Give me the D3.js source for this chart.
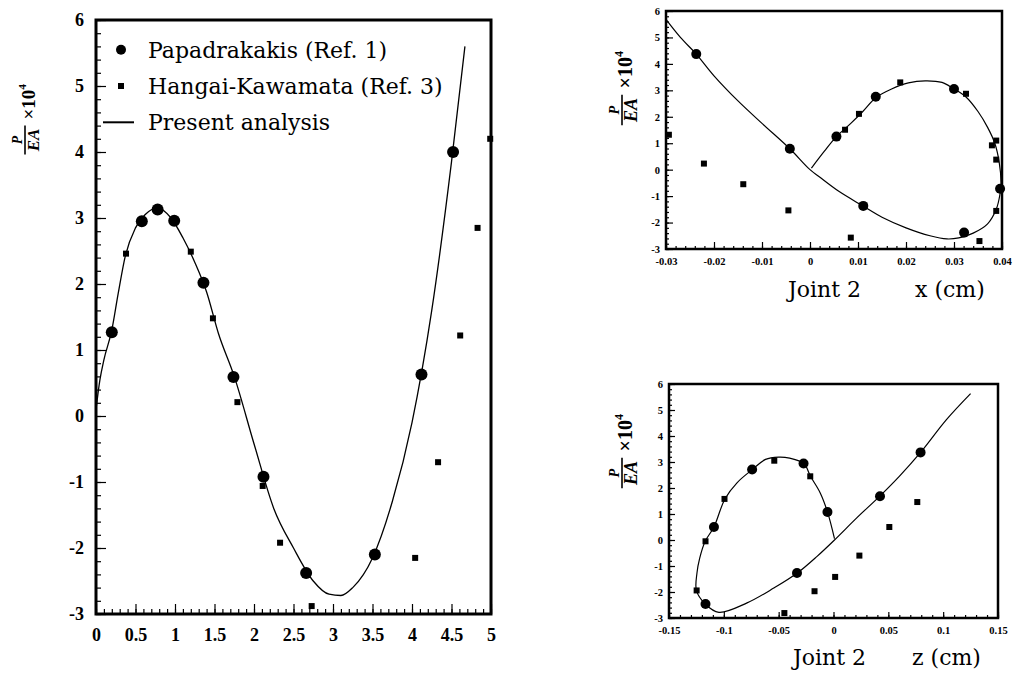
<!DOCTYPE html>
<html>
<head>
<meta charset="utf-8">
<script src="https://cdn.jsdelivr.net/npm/d3@7"></script>
<style>
  body { margin: 0; background: #fff; }
  svg { display: block; }
</style>
</head>
<body>
<svg id="chart" width="1013" height="675"></svg>
<script>
// ---- data ----
const yTicks = [-3, -2, -1, 0, 1, 2, 3, 4, 5, 6];

// left panel: P/EA vs displacement
const leftTicks = [0, 0.5, 1, 1.5, 2, 2.5, 3, 3.5, 4, 4.5, 5];
const leftTickLabels = ["0", "0.5", "1", "1.5", "2", "2.5", "3", "3.5", "4", "4.5", "5"];
const leftPapX = [0.2, 0.58, 0.78, 0.99, 1.36, 1.74, 2.12, 2.66, 3.53, 4.12, 4.52];
const leftPapY = [1.27, 2.95, 3.13, 2.96, 2.02, 0.59, -0.92, -2.38, -2.1, 0.63, 4.0];
const leftHanX = [0.38, 1.2, 1.48, 1.79, 2.11, 2.33, 2.73, 4.04, 4.33, 4.61, 4.83, 4.99];
const leftHanY = [2.46, 2.49, 1.48, 0.21, -1.06, -1.92, -2.88, -2.15, -0.7, 1.22, 2.85, 4.2];
const leftCurveX = [0, 0.05, 0.1, 0.2, 0.28, 0.37, 0.5, 0.62, 0.78, 0.95, 1.1, 1.25, 1.4, 1.55, 1.75, 2.0, 2.25, 2.5, 2.75, 2.95, 3.1, 3.25, 3.5, 3.75, 4.0, 4.25, 4.5, 4.67];
const leftCurveY = [0.1, 0.55, 0.85, 1.3, 1.85, 2.42, 2.85, 3.05, 3.15, 3.0, 2.7, 2.33, 1.88, 1.25, 0.6, -0.42, -1.4, -2.0, -2.5, -2.7, -2.72, -2.6, -2.15, -1.3, -0.1, 1.6, 3.85, 5.6];

// top right panel: Joint 2, x (cm)
const xTicks = [-0.03, -0.02, -0.01, 0, 0.01, 0.02, 0.03, 0.04];
const xTickLabels = ["-0.03", "-0.02", "-0.01", "0", "0.01", "0.02", "0.03", "0.04"];
const xPapX = [-0.0237, -0.0042, 0.0055, 0.0137, 0.030, 0.0396, 0.0321, 0.0111];
const xPapY = [4.37, 0.79, 1.25, 2.76, 3.05, -0.72, -2.38, -1.37];
const xHanX = [-0.0294, -0.0221, -0.0139, -0.0045, 0.0085, 0.0073, 0.0102, 0.0188, 0.0325, 0.0379, 0.0388, 0.0388, 0.0388, 0.0353];
const xHanY = [1.32, 0.23, -0.55, -1.54, -2.57, 1.51, 2.11, 3.30, 2.87, 0.92, 1.10, 0.38, -1.56, -2.70];
const xCurveX = [0.0003, 0.003, 0.0055, 0.0085, 0.011, 0.0137, 0.017, 0.0205, 0.024, 0.0275, 0.030, 0.0325, 0.035, 0.037, 0.0385, 0.0394, 0.0398, 0.0396, 0.0388, 0.037, 0.034, 0.031, 0.0285, 0.025, 0.02, 0.015, 0.011, 0.006, 0.002, 0, -0.0042, -0.01, -0.015, -0.02, -0.0237, -0.027, -0.03];
const xCurveY = [0.06, 0.7, 1.25, 1.75, 2.2, 2.72, 3.05, 3.28, 3.36, 3.3, 3.05, 2.75, 2.2, 1.6, 1.0, 0.3, -0.5, -0.9, -1.5, -2.05, -2.4, -2.58, -2.62, -2.5, -2.2, -1.8, -1.37, -0.82, -0.28, 0, 0.79, 1.75, 2.6, 3.55, 4.37, 5.0, 5.68];

// bottom right panel: Joint 2, z (cm)
const zTicks = [-0.15, -0.1, -0.05, 0, 0.05, 0.1, 0.15];
const zTickLabels = ["-0.15", "-0.1", "-0.05", "0", "0.05", "0.1", "0.15"];
const zPapX = [-0.1167, -0.109, -0.0742, -0.0273, -0.0055, -0.0333, 0.0424, 0.0794];
const zPapY = [-2.46, 0.5, 2.71, 2.94, 1.08, -1.27, 1.68, 3.37];
const zHanX = [-0.1248, -0.1167, -0.0994, -0.054, -0.0212, -0.0448, -0.0173, 0.0015, 0.0236, 0.0509, 0.0764];
const zHanY = [-1.94, -0.05, 1.58, 3.05, 2.45, -2.81, -1.97, -1.42, -0.60, 0.50, 1.46];
const zCurveX = [0.0009, -0.0055, -0.0121, -0.021, -0.027, -0.04, -0.05, -0.062, -0.074, -0.088, -0.099, -0.109, -0.117, -0.122, -0.1245, -0.125, -0.117, -0.1045, -0.0788, -0.0545, -0.033, -0.015, 0.0009, 0.0212, 0.042, 0.060, 0.0794, 0.103, 0.125];
const zCurveY = [0.05, 1.08, 1.81, 2.45, 2.94, 3.15, 3.19, 3.1, 2.71, 2.2, 1.58, 0.5, -0.05, -0.7, -1.27, -1.94, -2.46, -2.78, -2.42, -1.85, -1.27, -0.63, 0.0, 0.85, 1.68, 2.45, 3.37, 4.63, 5.63];

const legendLabels = ["Papadrakakis (Ref. 1)", "Hangai-Kawamata (Ref. 3)", "Present analysis"];

// ---- drawing ----
const svg = d3.select("#chart");
const zip = (xs, ys) => xs.map((v, i) => [v, ys[i]]);
const tickFamily = "'Liberation Serif', 'Times New Roman', serif";
const textFamily = "'DejaVu Serif', serif";

function panel(opt) {
  const x = d3.scaleLinear().domain(opt.xDomain).range([opt.x0, opt.x1]);
  const y = d3.scaleLinear().domain([-3, 6]).range([opt.y1, opt.y0]);
  const g = svg.append("g");

  // minor ticks
  g.append("g")
    .attr("transform", `translate(0,${opt.y1})`)
    .call(d3.axisBottom(x).tickValues(opt.xMinor).tickSize(-opt.minorLen).tickSizeOuter(0).tickFormat(""))
    .call(a => a.select(".domain").remove());
  g.append("g")
    .attr("transform", `translate(${opt.x0},0)`)
    .call(d3.axisLeft(y).tickValues(opt.yMinor).tickSize(-opt.minorLen).tickSizeOuter(0).tickFormat(""))
    .call(a => a.select(".domain").remove());

  // major ticks + labels
  const xa = g.append("g")
    .attr("transform", `translate(0,${opt.y1})`)
    .call(d3.axisBottom(x).tickValues(opt.xTicks).tickSize(-opt.majorLen).tickSizeOuter(0)
      .tickPadding(opt.xPad).tickFormat((d, i) => opt.xLabels[i]));
  xa.select(".domain").remove();

  const ya = g.append("g")
    .attr("transform", `translate(${opt.x0},0)`)
    .call(d3.axisLeft(y).tickValues(yTicks).tickSize(-opt.majorLen).tickSizeOuter(0)
      .tickPadding(opt.yPad).tickFormat(d => String(d)));
  ya.select(".domain").remove();

  g.selectAll(".tick text")
    .style("font-family", tickFamily).style("font-weight", "bold")
    .style("font-size", opt.tickFont + "px").attr("fill", "#000");
  g.selectAll(".tick line").attr("stroke", "#000").attr("stroke-width", 1.2);

  // frame
  g.append("rect")
    .attr("x", opt.x0).attr("y", opt.y0)
    .attr("width", opt.x1 - opt.x0).attr("height", opt.y1 - opt.y0)
    .attr("fill", "none").attr("stroke", "#000").attr("stroke-width", opt.frameW);

  // curve (present analysis)
  const line = d3.line().x(d => x(d[0])).y(d => y(d[1])).curve(opt.curve);
  g.append("path")
    .datum(zip(opt.curveX, opt.curveY))
    .attr("d", line)
    .attr("fill", "none").attr("stroke", "#000").attr("stroke-width", opt.lineW);

  // squares (Hangai-Kawamata)
  g.selectAll(".sq")
    .data(zip(opt.hanX, opt.hanY))
    .enter().append("rect")
    .attr("x", d => x(d[0]) - opt.sq / 2)
    .attr("y", d => y(d[1]) - opt.sq / 2)
    .attr("width", opt.sq).attr("height", opt.sq)
    .attr("fill", "#000");

  // circles (Papadrakakis)
  g.selectAll(".dot")
    .data(zip(opt.papX, opt.papY))
    .enter().append("circle")
    .attr("cx", d => x(d[0])).attr("cy", d => y(d[1]))
    .attr("r", opt.r).attr("fill", "#000");

  return { x, y, g };
}

function yLabel(cx, cy, fs, fracFs) {
  const g = svg.append("g").attr("transform", `translate(${cx},${cy}) rotate(-90)`);
  g.append("text").attr("x", 0).attr("y", -3).attr("text-anchor", "middle")
    .style("font-family", tickFamily).style("font-style", "italic").style("font-weight", "bold")
    .style("font-size", fracFs * 0.8 + "px").text("P");
  g.append("line").attr("x1", -fracFs * 0.85).attr("x2", fracFs * 0.85).attr("y1", 0).attr("y2", 0)
    .attr("stroke", "#000").attr("stroke-width", 1.6);
  g.append("text").attr("x", 0).attr("y", fracFs * 0.85).attr("text-anchor", "middle")
    .style("font-family", tickFamily).style("font-style", "italic").style("font-weight", "bold")
    .style("font-size", fracFs + "px").text("EA");
  const t = g.append("text").attr("x", fracFs * 1.2).attr("y", fs * 0.5)
    .style("font-family", tickFamily).style("font-weight", "bold").style("font-size", fs + "px");
  t.append("tspan").text("×10");
  t.append("tspan").style("font-size", fs * 0.6 + "px").attr("dy", -fs * 0.45).text("4");
}

// left panel
const L = panel({
  xDomain: [0, 5], x0: 96, x1: 491, y0: 20, y1: 614,
  xTicks: leftTicks, xLabels: leftTickLabels,
  xMinor: d3.range(0, 5.001, 0.1), yMinor: d3.range(-3, 6.001, 0.2),
  majorLen: 10, minorLen: 5, xPad: 14, yPad: 12, tickFont: 18,
  frameW: 3, lineW: 1.3, r: 6, sq: 6,
  curveX: leftCurveX, curveY: leftCurveY, curve: d3.curveMonotoneX,
  papX: leftPapX, papY: leftPapY, hanX: leftHanX, hanY: leftHanY
});

// top right panel
panel({
  xDomain: [-0.03, 0.04], x0: 666, x1: 1002, y0: 11, y1: 249,
  xTicks: xTicks, xLabels: xTickLabels,
  xMinor: d3.range(-0.03, 0.0401, 0.002), yMinor: d3.range(-3, 6.001, 0.2),
  majorLen: 7, minorLen: 3, xPad: 9, yPad: 6, tickFont: 10.5,
  frameW: 2.5, lineW: 1.2, r: 5, sq: 6,
  curveX: xCurveX, curveY: xCurveY, curve: d3.curveCatmullRom.alpha(0.5),
  papX: xPapX, papY: xPapY, hanX: xHanX, hanY: xHanY
});

// bottom right panel
panel({
  xDomain: [-0.15, 0.15], x0: 669, x1: 998, y0: 384, y1: 618,
  xTicks: zTicks, xLabels: zTickLabels,
  xMinor: d3.range(-0.15, 0.1501, 0.01), yMinor: d3.range(-3, 6.001, 0.2),
  majorLen: 6, minorLen: 3, xPad: 9, yPad: 6, tickFont: 10.5,
  frameW: 2.5, lineW: 1.2, r: 5, sq: 6,
  curveX: zCurveX, curveY: zCurveY, curve: d3.curveCatmullRom.alpha(0.5),
  papX: zPapX, papY: zPapY, hanX: zHanX, hanY: zHanY
});

// legend (left panel)
const legY = [L.y(5.55), L.y(5.0), L.y(4.45)];
const leg = svg.append("g");
leg.append("circle").attr("cx", 121).attr("cy", legY[0]).attr("r", 5).attr("fill", "#000");
leg.append("rect").attr("x", 118).attr("y", legY[1] - 3).attr("width", 6).attr("height", 6).attr("fill", "#000");
leg.append("line").attr("x1", 103).attr("x2", 134).attr("y1", legY[2]).attr("y2", legY[2])
  .attr("stroke", "#000").attr("stroke-width", 2);
leg.selectAll("text")
  .data(legendLabels)
  .enter().append("text")
  .attr("x", 148).attr("y", (d, i) => legY[i] + 8)
  .style("font-family", textFamily).style("font-size", "22px").attr("fill", "#000")
  .text(d => d);

// axis titles
yLabel(25, 140, 19, 17);
yLabel(622, 110, 20, 18);
yLabel(622, 473, 20, 18);

const title = (x, y, s) => svg.append("text").attr("x", x).attr("y", y)
  .style("font-family", textFamily).style("font-size", "22px").attr("fill", "#000").text(s);
title(788, 297, "Joint 2");
title(915, 297, "x (cm)");
title(793, 665, "Joint 2");
title(912, 665, "z (cm)");
</script>
</body>
</html>
